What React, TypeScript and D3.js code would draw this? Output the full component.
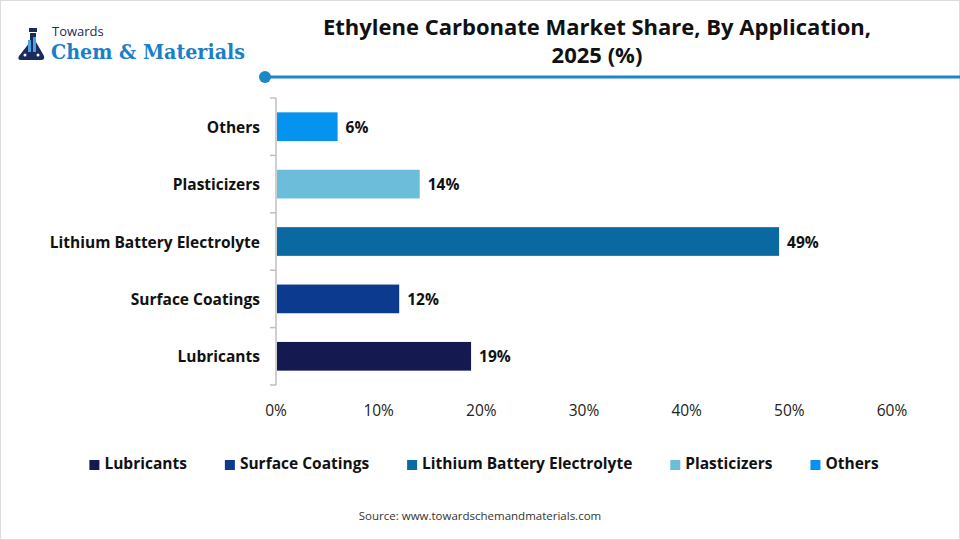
import React, { useEffect, useRef } from "react";
import * as d3 from "d3";

const categories = ["Lubricants", "Surface Coatings", "Lithium Battery Electrolyte", "Plasticizers", "Others"];
const shares = [19, 12, 49, 14, 6];
const colors = ["#141a4f", "#0c3a8e", "#0a69a0", "#6cbdda", "#0692ef"];
const xTicks = [0, 10, 20, 30, 40, 50, 60];
const titleLines = ["Ethylene Carbonate Market Share, By Application,", "2025 (%)"];
const sourceText = "Source: www.towardschemandmaterials.com";

const W = 960;
const H = 540;
const FONT = "'Open Sans', Lato, sans-serif";

export default function App() {
  const ref = useRef<SVGSVGElement>(null);

  useEffect(() => {
    const svg = d3.select(ref.current);
    svg.selectAll("*").remove();

    svg.append("rect").attr("x", 0.5).attr("y", 0.5).attr("width", W - 1).attr("height", H - 1)
      .attr("fill", "#fff").attr("stroke", "#dcdcdc");

    // Logo
    const logo = svg.append("g");
    logo.append("rect").attr("x", 29).attr("y", 28).attr("width", 8).attr("height", 4).attr("fill", "#1b2a5e");
    logo.append("path")
      .attr("d", "M30,33 L36,33 L36,42 L44,56 Q45,60 41,60 L21,60 Q17,60 19,56 L30,42 Z")
      .attr("fill", "#1b2a5e");
    logo.append("rect").attr("x", 28).attr("y", 40).attr("width", 3).attr("height", 12).attr("fill", "#4aa3e0");
    logo.append("rect").attr("x", 33).attr("y", 37).attr("width", 3).attr("height", 15).attr("fill", "#4aa3e0");
    logo.append("circle").attr("cx", 25).attr("cy", 55).attr("r", 1.5).attr("fill", "#fff");
    logo.append("circle").attr("cx", 38).attr("cy", 55).attr("r", 1.5).attr("fill", "#fff");
    logo.append("text").attr("x", 52).attr("y", 36).text("Towards")
      .attr("font-family", "'Open Sans', sans-serif").attr("font-size", 13).attr("fill", "#1b2a5e");
    logo.append("text").attr("x", 51).attr("y", 59).text("Chem & Materials")
      .attr("font-family", "'DejaVu Serif', serif").attr("font-weight", "bold").attr("font-size", 20)
      .attr("fill", "#1a7fc9").attr("textLength", 194).attr("lengthAdjust", "spacingAndGlyphs");

    // Title
    titleLines.forEach((t, i) => {
      svg.append("text").attr("x", 597).attr("y", 35 + i * 28).attr("text-anchor", "middle")
        .attr("font-family", FONT).attr("font-weight", "bold").attr("font-size", 22).attr("fill", "#111")
        .text(t);
    });

    // Header rule
    svg.append("line").attr("x1", 265).attr("x2", W).attr("y1", 77).attr("y2", 77)
      .attr("stroke", "#1a87c8").attr("stroke-width", 3);
    svg.append("circle").attr("cx", 265).attr("cy", 77).attr("r", 6).attr("fill", "#1a87c8");

    // Scales
    const x = d3.scaleLinear().domain([0, 60]).range([276, 892]);
    const order = [...categories].reverse();
    const y = d3.scaleBand<string>().domain(order).range([98, 385]).paddingInner(0.5).paddingOuter(0.25);

    // Axis line and ticks
    const g = svg.append("g");
    g.append("line").attr("x1", 276).attr("x2", 276).attr("y1", 98).attr("y2", 385)
      .attr("stroke", "#bfbfbf").attr("stroke-width", 1.5);
    const step = y.step();
    for (let i = 0; i <= order.length; i++) {
      const yy = 98 + i * step;
      g.append("line").attr("x1", 270).attr("x2", 276).attr("y1", yy).attr("y2", yy)
        .attr("stroke", "#bfbfbf").attr("stroke-width", 1.5);
    }

    // Bars
    categories.forEach((c, i) => {
      const by = y(c)!;
      g.append("rect").attr("x", x(0) + 1).attr("y", by).attr("width", x(shares[i]) - x(0) - 1)
        .attr("height", y.bandwidth()).attr("fill", colors[i]);
      g.append("text").attr("x", x(shares[i]) + 8).attr("y", by + y.bandwidth() / 2 + 6)
        .attr("font-family", FONT).attr("font-weight", "bold").attr("font-size", 15.5).attr("fill", "#111")
        .text(shares[i] + "%");
      g.append("text").attr("x", 260).attr("y", by + y.bandwidth() / 2 + 6).attr("text-anchor", "end")
        .attr("font-family", FONT).attr("font-weight", "bold").attr("font-size", 15.5).attr("fill", "#111")
        .text(c);
    });

    // X tick labels
    xTicks.forEach((t) => {
      g.append("text").attr("x", x(t)).attr("y", 416).attr("text-anchor", "middle")
        .attr("font-family", FONT).attr("font-size", 15.5).attr("fill", "#222").text(t + "%");
    });

    // Legend
    const leg = svg.append("g");
    const items = categories.map((c, i) => {
      const it = leg.append("g");
      it.append("rect").attr("x", 0).attr("y", -9).attr("width", 10).attr("height", 10).attr("fill", colors[i]);
      const tx = it.append("text").attr("x", 15).attr("y", 0)
        .attr("font-family", FONT).attr("font-weight", "bold").attr("font-size", 15.5).attr("fill", "#111").text(c);
      const w = 15 + (tx.node() as SVGTextElement).getComputedTextLength();
      return { it, w };
    });
    const gap = 38;
    const total = items.reduce((s, d) => s + d.w, 0) + gap * (items.length - 1);
    let cx = 484 - total / 2;
    items.forEach((d) => {
      d.it.attr("transform", `translate(${cx},469)`);
      cx += d.w + gap;
    });

    // Source
    svg.append("text").attr("x", 480).attr("y", 520).attr("text-anchor", "middle")
      .attr("font-family", "'Open Sans', sans-serif").attr("font-size", 11.5).attr("fill", "#333").text(sourceText);
  }, []);

  return (
    <svg ref={ref} width={W} height={H} style={{ position: "absolute", left: 0, top: 0, background: "#fff" }} />
  );
}
